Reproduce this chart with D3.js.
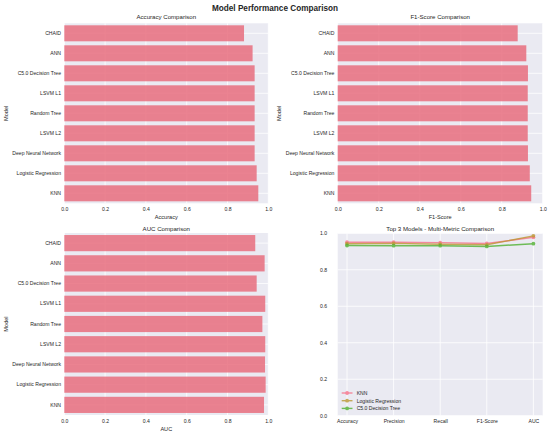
<!DOCTYPE html>
<html>
<head>
<meta charset="utf-8">
<script src="https://cdn.jsdelivr.net/npm/d3@7/dist/d3.min.js"></script>
<style>
  html, body { margin: 0; padding: 0; background: #ffffff; }
  svg { display: block; }
  text { font-family: "Liberation Sans", Arial, sans-serif; fill: #262626; }
</style>
</head>
<body>
<svg id="chart" width="550" height="436"></svg>
<script>
// ---- data ----
const models = ["CHAID", "ANN", "C5.0 Decision Tree", "LSVM L1", "Random Tree", "LSVM L2", "Deep Neural Network", "Logistic Regression", "KNN"];
const accuracy = [0.881, 0.923, 0.933, 0.933, 0.933, 0.933, 0.933, 0.943, 0.951];
const f1Score = [0.878, 0.920, 0.928, 0.927, 0.927, 0.927, 0.928, 0.937, 0.944];
const aucScore = [0.936, 0.982, 0.943, 0.985, 0.971, 0.985, 0.984, 0.987, 0.979];
const xTicks = [0.0, 0.2, 0.4, 0.6, 0.8, 1.0];

const metrics = ["Accuracy", "Precision", "Recall", "F1-Score", "AUC"];
const topModels = ["KNN", "Logistic Regression", "C5.0 Decision Tree"];
const knnScores = [0.951, 0.951, 0.949, 0.944, 0.978];
const lrScores = [0.943, 0.945, 0.940, 0.937, 0.986];
const c50Scores = [0.933, 0.932, 0.932, 0.928, 0.943];
const lineColors = ["#f77189", "#bb9832", "#50b131"];

const svg = d3.select("#chart");
svg.append("rect").attr("width", 550).attr("height", 436).attr("fill", "#ffffff");

svg.append("text")
  .attr("x", 275).attr("y", 11)
  .attr("text-anchor", "middle")
  .attr("font-size", 8.2).attr("font-weight", "bold")
  .text("Model Performance Comparison");

const BG = "#eaeaf2";
const fmt = d3.format(".1f");

function barPanel(box, values, title, xlabel, titleY) {
  const g = svg.append("g");
  const x = d3.scaleLinear().domain([0, 1]).range([box.x0, box.x1]);
  const y = d3.scaleBand().domain(models).range([box.y0, box.y1]).paddingInner(0.2).paddingOuter(0.1);
  g.append("rect").attr("x", box.x0).attr("y", box.y0)
    .attr("width", box.x1 - box.x0).attr("height", box.y1 - box.y0).attr("fill", BG);
  // grid
  g.selectAll(".vg").data(xTicks).join("line")
    .attr("x1", d => x(d)).attr("x2", d => x(d))
    .attr("y1", box.y0).attr("y2", box.y1)
    .attr("stroke", "#ffffff").attr("stroke-width", 0.8);
  g.selectAll(".hg").data(models).join("line")
    .attr("x1", box.x0).attr("x2", box.x1)
    .attr("y1", d => y(d) + y.bandwidth() / 2).attr("y2", d => y(d) + y.bandwidth() / 2)
    .attr("stroke", "#ffffff").attr("stroke-width", 0.8);
  // bars
  g.selectAll(".bar").data(models).join("rect")
    .attr("x", x(0)).attr("y", d => y(d))
    .attr("width", (d, i) => x(values[i]) - x(0))
    .attr("height", y.bandwidth())
    .attr("fill", "#e86d7e").attr("fill-opacity", 0.85);
  // axes
  const xa = d3.axisBottom(x).tickValues(xTicks).tickFormat(fmt).tickSize(0).tickPadding(4);
  const xg = g.append("g").attr("transform", `translate(0,${box.y1})`).call(xa);
  xg.select(".domain").remove();
  xg.selectAll("text").attr("font-size", 5.1).attr("fill", "#262626")
    .style("font-family", "'Liberation Sans', Arial, sans-serif");
  const ya = d3.axisLeft(y).tickSize(0).tickPadding(3.3);
  const yg = g.append("g").attr("transform", `translate(${box.x0},0)`).call(ya);
  yg.select(".domain").remove();
  yg.selectAll("text").attr("font-size", 5.1).attr("fill", "#262626")
    .style("font-family", "'Liberation Sans', Arial, sans-serif");
  // labels
  g.append("text").attr("x", (box.x0 + box.x1) / 2).attr("y", titleY)
    .attr("text-anchor", "middle").attr("font-size", 6.1).text(title);
  g.append("text").attr("x", (box.x0 + box.x1) / 2).attr("y", box.y1 + 15.8)
    .attr("text-anchor", "middle").attr("font-size", 5.6).text(xlabel);
  const ly = (box.y0 + box.y1) / 2;
  const lx = box.x0 - 56.5;
  g.append("text").attr("transform", `translate(${lx},${ly}) rotate(-90)`)
    .attr("text-anchor", "middle").attr("font-size", 5.6).text("Model");
}

barPanel({x0: 64.3, x1: 268.3, y0: 23.3, y1: 203.3}, accuracy, "Accuracy Comparison", "Accuracy", 19);
barPanel({x0: 337.7, x1: 542.7, y0: 23.3, y1: 203.3}, f1Score, "F1-Score Comparison", "F1-Score", 19);
barPanel({x0: 64.3, x1: 268.3, y0: 233, y1: 415}, aucScore, "AUC Comparison", "AUC", 230.5);

// ---- line panel ----
(function () {
  const box = {x0: 337.7, x1: 542.7, y0: 233.3, y1: 415.7};
  const g = svg.append("g");
  const x = d3.scalePoint().domain(metrics).range([box.x0 + (box.x1 - box.x0) * 0.2 / 4.4, box.x1 - (box.x1 - box.x0) * 0.2 / 4.4]);
  const y = d3.scaleLinear().domain([0, 1]).range([box.y1, box.y0]);
  const yTicks = [0.0, 0.2, 0.4, 0.6, 0.8, 1.0];
  g.append("rect").attr("x", box.x0).attr("y", box.y0)
    .attr("width", box.x1 - box.x0).attr("height", box.y1 - box.y0).attr("fill", BG);
  g.selectAll(".hg").data(yTicks).join("line")
    .attr("x1", box.x0).attr("x2", box.x1)
    .attr("y1", d => y(d)).attr("y2", d => y(d))
    .attr("stroke", "#ffffff").attr("stroke-width", 0.8);
  g.selectAll(".vg").data(metrics).join("line")
    .attr("x1", d => x(d)).attr("x2", d => x(d))
    .attr("y1", box.y0).attr("y2", box.y1)
    .attr("stroke", "#ffffff").attr("stroke-width", 0.8);

  const series = [knnScores, lrScores, c50Scores];
  const line = d3.line().x((d, i) => x(metrics[i])).y(d => y(d));
  series.forEach((s, k) => {
    const sg = g.append("g").attr("opacity", 0.8);
    sg.append("path").attr("d", line(s)).attr("fill", "none")
      .attr("stroke", lineColors[k]).attr("stroke-width", 1.4);
    sg.selectAll("circle").data(s).join("circle")
      .attr("cx", (d, i) => x(metrics[i])).attr("cy", d => y(d)).attr("r", 1.9)
      .attr("fill", lineColors[k]);
  });

  const xa = d3.axisBottom(x).tickSize(0).tickPadding(4);
  const xg = g.append("g").attr("transform", `translate(0,${box.y1})`).call(xa);
  xg.select(".domain").remove();
  xg.selectAll("text").attr("font-size", 5.1).attr("fill", "#262626")
    .style("font-family", "'Liberation Sans', Arial, sans-serif");
  const ya = d3.axisLeft(y).tickValues(yTicks).tickFormat(fmt).tickSize(0).tickPadding(10.5);
  const yg = g.append("g").attr("transform", `translate(${box.x0},0)`).call(ya);
  yg.select(".domain").remove();
  yg.selectAll("text").attr("font-size", 5.1).attr("fill", "#262626")
    .style("font-family", "'Liberation Sans', Arial, sans-serif");

  g.append("text").attr("x", (box.x0 + box.x1) / 2).attr("y", 230.5)
    .attr("text-anchor", "middle").attr("font-size", 6.1).text("Top 3 Models - Multi-Metric Comparison");

  // legend
  topModels.forEach((name, k) => {
    const ly = 393 + k * 7.7;
    const lg = g.append("g");
    const sg = lg.append("g").attr("opacity", 0.8);
    sg.append("line").attr("x1", 341.7).attr("x2", 352.5).attr("y1", ly).attr("y2", ly)
      .attr("stroke", lineColors[k]).attr("stroke-width", 1.4);
    sg.append("circle").attr("cx", 347.1).attr("cy", ly).attr("r", 1.9).attr("fill", lineColors[k]);
    lg.append("text").attr("x", 356.7).attr("y", ly + 1.8).attr("font-size", 5.1).text(name);
  });
})();
</script>
</body>
</html>
